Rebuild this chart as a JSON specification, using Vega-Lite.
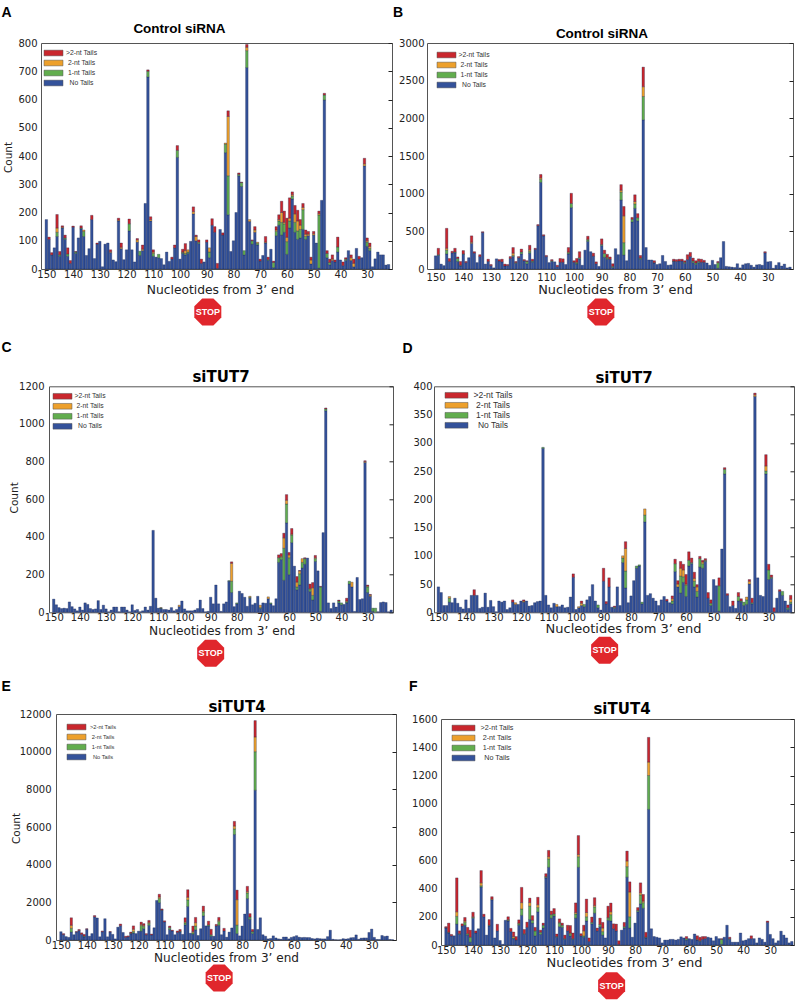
{"$schema":"https://vega.github.io/schema/vega-lite/v6.json","padding":{"left":0,"top":6,"right":0,"bottom":0},"background":"white",
"config":{"view":{"stroke":"#555","strokeWidth":1},"axis":{"grid":false,"domain":false,"labelFont":"DejaVu Sans","labelFontSize":10,"labelColor":"#222","titleFont":"DejaVu Sans","titleFontWeight":"normal","titleColor":"#222","tickColor":"#222","titleFontSize":12.3},"legend":{"labelFont":"Liberation Sans","labelColor":"#333","symbolStrokeWidth":0.5,"symbolStrokeColor":"#555","symbolOpacity":1,"rowPadding":1,"padding":0,"labelAlign":"center","title":null}},
"datasets":{
"a":[{"p":150,"t0":175},{"p":149,"t0":105,"t3":8},{"p":148,"t0":50,"t3":8},{"p":147,"t0":75},{"p":146,"t0":115,"t1":15,"t2":15,"t3":48},{"p":145,"t0":45,"t1":5,"t3":12},{"p":144,"t0":145,"t2":3,"t3":5},{"p":143,"t0":105,"t1":5,"t3":10},{"p":142,"t0":45,"t1":8,"t3":22},{"p":141,"t0":20,"t3":10},{"p":140,"t0":148,"t3":4},{"p":139,"t0":55,"t1":5,"t3":2},{"p":138,"t0":110},{"p":137,"t0":142,"t1":3,"t3":8},{"p":136,"t0":115,"t1":18,"t2":5},{"p":135,"t0":48},{"p":134,"t0":72},{"p":133,"t0":175,"t3":15},{"p":132,"t0":37},{"p":131,"t0":88,"t3":4},{"p":130,"t0":98},{"p":129,"t0":8},{"p":128,"t0":88},{"p":127,"t0":92},{"p":126,"t0":58,"t2":3,"t3":7},{"p":125,"t0":32},{"p":124,"t0":26},{"p":123,"t0":170,"t2":3,"t3":7},{"p":122,"t0":72,"t2":5,"t3":15},{"p":121,"t0":33},{"p":120,"t0":68},{"p":119,"t0":135,"t1":25,"t3":17},{"p":118,"t0":68},{"p":117,"t0":25},{"p":116,"t0":95,"t2":8,"t3":5},{"p":115,"t0":48,"t1":15},{"p":114,"t0":65,"t2":5,"t3":15},{"p":113,"t0":232},{"p":112,"t0":680,"t1":20,"t3":5},{"p":111,"t0":170,"t2":5,"t3":10},{"p":110,"t0":45,"t1":10,"t2":5,"t3":8},{"p":109,"t0":42},{"p":108,"t0":40,"t1":12},{"p":107,"t0":37},{"p":106,"t0":15},{"p":105,"t0":60},{"p":104,"t0":27},{"p":103,"t0":35,"t3":7},{"p":102,"t0":75,"t3":10},{"p":101,"t0":395,"t1":25,"t3":17},{"p":100,"t0":35},{"p":99,"t0":55,"t1":3,"t2":2,"t3":10},{"p":98,"t0":50,"t1":5,"t2":10,"t3":25},{"p":97,"t0":55,"t1":5,"t2":8},{"p":96,"t0":98},{"p":95,"t0":195,"t2":8,"t3":17},{"p":94,"t0":100,"t2":15,"t3":5},{"p":93,"t0":90,"t1":5,"t3":8},{"p":92,"t0":20,"t3":15},{"p":91,"t0":25},{"p":90,"t0":95,"t3":8},{"p":89,"t0":40,"t1":20,"t2":15},{"p":88,"t0":155,"t3":23},{"p":87,"t0":130,"t3":20},{"p":86,"t0":2,"t3":18},{"p":85,"t0":140},{"p":84,"t0":120,"t3":8},{"p":83,"t0":412,"t1":30,"t2":4},{"p":82,"t0":192,"t1":138,"t2":210,"t3":20},{"p":81,"t0":62},{"p":80,"t0":100},{"p":79,"t0":200},{"p":78,"t0":330,"t1":5,"t3":5},{"p":77,"t0":292,"t1":14,"t3":2},{"p":76,"t0":50,"t1":15},{"p":75,"t0":713,"t1":60,"t2":12,"t3":10},{"p":74,"t0":168,"t2":7},{"p":73,"t0":88,"t1":12,"t3":3},{"p":72,"t0":130,"t2":8,"t3":12},{"p":71,"t0":85,"t1":6,"t2":4},{"p":70,"t0":28,"t3":7},{"p":69,"t0":48},{"p":68,"t0":92,"t2":3,"t3":20},{"p":67,"t0":30,"t1":3,"t3":9},{"p":66,"t0":70},{"p":65,"t0":5,"t1":18,"t3":5},{"p":64,"t0":118,"t1":15,"t2":5,"t3":12},{"p":63,"t0":155,"t1":15,"t2":5,"t3":17},{"p":62,"t0":120,"t1":45,"t2":35,"t3":40},{"p":61,"t0":130,"t1":30,"t2":5,"t3":40},{"p":60,"t0":52,"t1":45,"t2":15,"t3":68},{"p":59,"t0":145,"t1":25,"t2":10,"t3":72},{"p":58,"t0":248,"t1":10,"t2":5,"t3":10},{"p":57,"t0":130,"t1":35,"t2":30,"t3":30},{"p":56,"t0":105,"t1":30,"t2":35,"t3":38},{"p":55,"t0":110,"t1":30,"t2":15,"t3":20},{"p":54,"t0":140,"t1":70,"t2":8,"t3":14},{"p":53,"t0":105,"t1":10,"t2":8,"t3":15},{"p":52,"t0":118,"t2":5,"t3":10},{"p":51,"t0":18,"t2":14,"t3":10},{"p":50,"t0":120,"t2":5,"t3":8},{"p":49,"t0":92},{"p":48,"t0":3,"t1":188,"t2":5,"t3":9},{"p":47,"t0":243},{"p":46,"t0":598,"t1":18,"t3":6},{"p":45,"t0":40,"t1":15,"t3":10},{"p":44,"t0":15,"t1":8,"t3":12},{"p":43,"t0":30,"t2":5,"t3":15},{"p":42,"t0":25,"t3":7},{"p":41,"t0":60,"t1":18,"t3":35},{"p":40,"t0":32},{"p":39,"t0":12,"t3":13},{"p":38,"t0":30,"t1":5,"t3":5},{"p":37,"t0":65},{"p":36,"t0":30,"t2":10,"t3":10},{"p":35,"t0":8,"t2":12,"t3":15},{"p":34,"t0":73},{"p":33,"t0":35,"t3":10},{"p":32,"t0":40},{"p":31,"t0":365,"t2":7,"t3":20},{"p":30,"t0":80,"t1":15,"t2":5,"t3":10},{"p":29,"t0":65,"t1":8,"t2":7,"t3":12},{"p":28,"t0":8},{"p":27,"t0":36},{"p":26,"t0":60},{"p":25,"t0":50},{"p":24,"t0":50},{"p":23,"t0":14},{"p":22,"t0":16}],
"b":[{"p":150,"t0":175},{"p":149,"t0":180,"t1":10,"t3":85},{"p":148,"t0":65},{"p":147,"t0":45},{"p":146,"t0":200,"t1":50,"t2":25,"t3":265},{"p":145,"t0":100,"t3":40},{"p":144,"t0":215,"t3":20},{"p":143,"t0":215,"t1":10,"t3":50},{"p":142,"t0":100,"t1":40,"t3":20},{"p":141,"t0":40,"t1":10,"t3":50},{"p":140,"t0":195,"t1":5,"t3":45},{"p":139,"t0":85,"t3":15},{"p":138,"t0":150},{"p":137,"t0":340,"t2":15,"t3":85},{"p":136,"t0":210,"t3":20},{"p":135,"t0":85},{"p":134,"t0":165,"t3":25},{"p":133,"t0":485,"t3":10},{"p":132,"t0":65},{"p":131,"t0":100,"t3":30},{"p":130,"t0":45,"t3":15},{"p":129,"t0":15},{"p":128,"t0":135},{"p":127,"t0":105,"t3":20},{"p":126,"t0":95,"t3":35},{"p":125,"t0":40,"t3":25},{"p":124,"t0":45,"t3":15},{"p":123,"t0":140,"t3":25},{"p":122,"t0":165,"t1":15,"t2":30,"t3":75},{"p":121,"t0":75,"t1":10,"t3":15},{"p":120,"t0":150,"t3":15},{"p":119,"t0":200,"t1":25,"t3":40},{"p":118,"t0":110,"t3":15},{"p":117,"t0":70,"t1":30,"t3":10},{"p":116,"t0":210,"t1":25,"t2":20,"t3":60},{"p":115,"t0":90,"t1":15,"t3":25},{"p":114,"t0":260,"t3":15},{"p":113,"t0":575,"t3":15},{"p":112,"t0":1150,"t1":40,"t2":20,"t3":45},{"p":111,"t0":440,"t3":15},{"p":110,"t0":165,"t3":15},{"p":109,"t0":85},{"p":108,"t0":100,"t1":10,"t3":15},{"p":107,"t0":95},{"p":106,"t0":30,"t3":20},{"p":105,"t0":90,"t3":50},{"p":104,"t0":90,"t3":45},{"p":103,"t0":60},{"p":102,"t0":200,"t1":15,"t2":10,"t3":60},{"p":101,"t0":815,"t1":55,"t3":135},{"p":100,"t0":90,"t3":20},{"p":99,"t0":65,"t1":15,"t2":10,"t3":50},{"p":98,"t0":135,"t1":15,"t3":80},{"p":97,"t0":50},{"p":96,"t0":250},{"p":95,"t0":365,"t1":20,"t2":10,"t3":40},{"p":94,"t0":230},{"p":93,"t0":170,"t3":40},{"p":92,"t0":70,"t3":25},{"p":91,"t0":35},{"p":90,"t0":310,"t1":15,"t3":75},{"p":89,"t0":155,"t1":50,"t3":45},{"p":88,"t0":130,"t1":15,"t2":10,"t3":40},{"p":87,"t0":130,"t3":30},{"p":86,"t0":20,"t1":15,"t3":35},{"p":85,"t0":270},{"p":84,"t0":190},{"p":83,"t0":915,"t1":105,"t2":25,"t3":75},{"p":82,"t0":185,"t1":165,"t2":355,"t3":125},{"p":81,"t0":110},{"p":80,"t0":255},{"p":79,"t0":625,"t1":35,"t3":25},{"p":78,"t0":805,"t1":60,"t2":30,"t3":90},{"p":77,"t0":640,"t1":40,"t3":55},{"p":76,"t0":130,"t1":15,"t3":35},{"p":75,"t0":1980,"t1":310,"t2":130,"t3":260},{"p":74,"t0":285},{"p":73,"t0":120},{"p":72,"t0":120},{"p":71,"t0":80,"t1":5,"t3":25},{"p":70,"t0":60},{"p":69,"t0":70},{"p":68,"t0":180},{"p":67,"t0":100},{"p":66,"t0":50},{"p":65,"t0":55},{"p":64,"t0":100,"t1":5,"t3":25},{"p":63,"t0":100,"t3":25},{"p":62,"t0":105,"t3":25},{"p":61,"t0":105,"t3":25},{"p":60,"t0":75,"t1":15,"t3":20},{"p":59,"t0":125,"t3":65},{"p":58,"t0":165,"t3":55},{"p":57,"t0":85,"t1":20,"t3":40},{"p":56,"t0":60,"t1":20,"t3":30},{"p":55,"t0":85,"t1":15,"t3":35},{"p":54,"t0":90,"t3":40},{"p":53,"t0":90,"t3":25},{"p":52,"t0":80},{"p":51,"t0":50},{"p":50,"t0":115},{"p":49,"t0":60},{"p":48,"t0":10,"t1":75,"t3":15},{"p":47,"t0":150},{"p":46,"t0":365},{"p":45,"t0":35},{"p":44,"t0":30},{"p":43,"t0":25},{"p":42,"t0":20},{"p":41,"t0":70},{"p":40,"t0":15},{"p":39,"t0":55},{"p":38,"t0":70},{"p":37,"t0":75},{"p":36,"t0":50},{"p":35,"t0":25},{"p":34,"t0":55},{"p":33,"t0":60},{"p":32,"t0":50},{"p":31,"t0":215,"t3":15},{"p":30,"t0":95},{"p":29,"t0":100},{"p":28,"t0":10},{"p":27,"t0":50},{"p":26,"t0":85},{"p":25,"t0":40},{"p":24,"t0":65},{"p":23,"t0":15},{"p":22,"t0":25}],
"c":[{"p":150,"t0":70},{"p":149,"t0":40},{"p":148,"t0":25},{"p":147,"t0":20},{"p":146,"t0":22},{"p":145,"t0":20},{"p":144,"t0":55},{"p":143,"t0":30},{"p":142,"t0":18},{"p":141,"t0":8},{"p":140,"t0":28},{"p":139,"t0":12},{"p":138,"t0":50},{"p":137,"t0":42},{"p":136,"t0":20},{"p":135,"t0":15},{"p":134,"t0":18},{"p":133,"t0":62},{"p":132,"t0":15},{"p":131,"t0":38},{"p":130,"t0":18},{"p":129,"t0":3},{"p":128,"t0":12},{"p":127,"t0":28},{"p":126,"t0":28},{"p":125,"t0":3},{"p":124,"t0":28},{"p":123,"t0":28},{"p":122,"t0":12},{"p":121,"t0":3},{"p":120,"t0":40},{"p":119,"t0":10},{"p":118,"t0":15},{"p":117,"t0":3},{"p":116,"t0":8},{"p":115,"t0":28},{"p":114,"t0":12},{"p":113,"t0":32},{"p":112,"t0":435},{"p":111,"t0":75},{"p":110,"t0":22},{"p":109,"t0":20,"t1":3,"t2":2},{"p":108,"t0":15},{"p":107,"t0":15},{"p":106,"t0":12},{"p":105,"t0":25},{"p":104,"t0":8},{"p":103,"t0":15},{"p":102,"t0":30,"t2":8},{"p":101,"t0":60},{"p":100,"t0":18},{"p":99,"t0":8},{"p":98,"t0":8},{"p":97,"t0":8},{"p":96,"t0":12},{"p":95,"t0":20},{"p":94,"t0":65},{"p":93,"t0":20},{"p":92,"t0":3},{"p":91,"t0":5},{"p":90,"t0":80},{"p":89,"t0":45},{"p":88,"t0":145},{"p":87,"t0":45},{"p":86,"t0":5},{"p":85,"t0":45},{"p":84,"t0":55},{"p":83,"t0":165,"t1":3},{"p":82,"t0":105,"t1":60,"t2":95,"t3":8},{"p":81,"t0":30},{"p":80,"t0":45,"t1":5},{"p":79,"t0":112},{"p":78,"t0":100},{"p":77,"t0":80},{"p":76,"t0":32},{"p":75,"t0":75,"t1":5,"t2":5},{"p":74,"t0":40},{"p":73,"t0":48},{"p":72,"t0":85},{"p":71,"t0":20,"t1":5,"t2":13},{"p":70,"t0":50},{"p":69,"t0":48},{"p":68,"t0":72,"t2":10},{"p":67,"t0":45,"t1":5},{"p":66,"t0":35},{"p":65,"t0":72},{"p":64,"t0":265,"t1":25,"t3":15},{"p":63,"t0":280,"t1":12,"t2":5,"t3":15},{"p":62,"t0":170,"t1":170,"t2":55,"t3":25},{"p":61,"t0":475,"t1":100,"t2":20,"t3":30},{"p":60,"t0":200,"t1":90,"t2":15,"t3":13},{"p":59,"t0":370,"t1":40,"t2":5,"t3":30},{"p":58,"t0":245},{"p":57,"t0":120,"t1":15,"t2":25,"t3":30},{"p":56,"t0":145,"t1":60,"t2":15,"t3":2},{"p":55,"t0":235,"t1":30,"t2":20},{"p":54,"t0":255,"t1":30,"t3":5},{"p":53,"t0":288},{"p":52,"t0":110,"t1":15,"t3":25},{"p":51,"t0":65,"t1":25,"t2":40,"t3":28},{"p":50,"t0":270,"t1":15,"t2":5,"t3":12},{"p":49,"t0":220},{"p":48,"t0":5,"t1":130,"t3":3},{"p":47,"t0":423},{"p":46,"t0":1070,"t1":10,"t3":5},{"p":45,"t0":50},{"p":44,"t0":20},{"p":43,"t0":50},{"p":42,"t0":28},{"p":41,"t0":50,"t1":10,"t3":5},{"p":40,"t0":40,"t1":10},{"p":39,"t0":42},{"p":38,"t0":50,"t1":5,"t2":5,"t3":15},{"p":37,"t0":150,"t1":15},{"p":36,"t0":135,"t2":25},{"p":35,"t0":5},{"p":34,"t0":185},{"p":33,"t0":68},{"p":32,"t0":72},{"p":31,"t0":795,"t2":5,"t3":5},{"p":30,"t0":105,"t1":30,"t2":5,"t3":5},{"p":29,"t0":85,"t2":7,"t3":3},{"p":28,"t0":5,"t1":17},{"p":27,"t1":22},{"p":26,"t0":3},{"p":25,"t0":52},{"p":24,"t0":55},{"p":23,"t0":52},{"p":22,"t0":3},{"p":21,"t0":12}],
"d":[{"p":150,"t0":45},{"p":149,"t0":35},{"p":148,"t0":12},{"p":147,"t0":12},{"p":146,"t0":18,"t1":7,"t2":3},{"p":145,"t0":17},{"p":144,"t0":25},{"p":143,"t0":16},{"p":142,"t0":9},{"p":141,"t0":6},{"p":140,"t0":22},{"p":139,"t0":7},{"p":138,"t0":30},{"p":137,"t0":30,"t3":10},{"p":136,"t0":30},{"p":135,"t0":7},{"p":134,"t0":9},{"p":133,"t0":34},{"p":132,"t0":9},{"p":131,"t0":21},{"p":130,"t0":10},{"p":129,"t0":1},{"p":128,"t0":20},{"p":127,"t0":18},{"p":126,"t0":20},{"p":125,"t0":5},{"p":124,"t0":8},{"p":123,"t0":18,"t3":4},{"p":122,"t0":14,"t2":3},{"p":121,"t0":14},{"p":120,"t0":20},{"p":119,"t0":18,"t2":2,"t3":2},{"p":118,"t0":20},{"p":117,"t0":11},{"p":116,"t0":12},{"p":115,"t0":17},{"p":114,"t0":19},{"p":113,"t0":20},{"p":112,"t0":290,"t1":2},{"p":111,"t0":30},{"p":110,"t0":13},{"p":109,"t0":8},{"p":108,"t0":16},{"p":107,"t0":10,"t2":4},{"p":106,"t0":10},{"p":105,"t0":13},{"p":104,"t0":8},{"p":103,"t0":9},{"p":102,"t0":27},{"p":101,"t0":62,"t3":6},{"p":100,"t0":5},{"p":99,"t0":8,"t2":2},{"p":98,"t0":12,"t2":4,"t3":4},{"p":97,"t0":10,"t1":4},{"p":96,"t0":22},{"p":95,"t0":28},{"p":94,"t0":49},{"p":93,"t0":20},{"p":92,"t0":8,"t1":5},{"p":91,"t0":4},{"p":90,"t0":55,"t3":23},{"p":89,"t0":15,"t3":4},{"p":88,"t0":45,"t3":16},{"p":87,"t0":9},{"p":86,"t0":7,"t1":2,"t3":2},{"p":85,"t0":45},{"p":84,"t0":12},{"p":83,"t0":88,"t1":8,"t2":4},{"p":82,"t0":43,"t1":30,"t2":40,"t3":12},{"p":81,"t0":17},{"p":80,"t0":29},{"p":79,"t0":56},{"p":78,"t0":78,"t1":4},{"p":77,"t0":82,"t1":2},{"p":76,"t0":15,"t1":3},{"p":75,"t0":160,"t1":12,"t2":11},{"p":74,"t0":30},{"p":73,"t0":33},{"p":72,"t0":25},{"p":71,"t0":20},{"p":70,"t0":12},{"p":69,"t0":22},{"p":68,"t0":28},{"p":67,"t0":20,"t3":3},{"p":66,"t0":17},{"p":65,"t0":15,"t1":5,"t2":4,"t3":5},{"p":64,"t0":72,"t1":14,"t3":8},{"p":63,"t0":45,"t2":5,"t3":6},{"p":62,"t0":34,"t1":30,"t2":14,"t3":12},{"p":61,"t0":53,"t1":10,"t2":12,"t3":10},{"p":60,"t0":28,"t1":20,"t2":2,"t3":17},{"p":59,"t0":82,"t1":10,"t3":15},{"p":58,"t0":86,"t1":2,"t3":8},{"p":57,"t0":45,"t1":10,"t2":5,"t3":11},{"p":56,"t0":27,"t1":10,"t2":8,"t3":4},{"p":55,"t0":80,"t1":15,"t3":4},{"p":54,"t0":78,"t1":8,"t2":3,"t3":3},{"p":53,"t0":90,"t1":2,"t3":3},{"p":52,"t0":25,"t3":10},{"p":51,"t0":12,"t1":4,"t3":6},{"p":50,"t0":58},{"p":49,"t0":47},{"p":48,"t0":2,"t1":45,"t3":14},{"p":47,"t0":112},{"p":46,"t0":245,"t1":8,"t3":3},{"p":45,"t0":30,"t3":3},{"p":44,"t0":10},{"p":43,"t0":12,"t3":8},{"p":42,"t0":7},{"p":41,"t0":20,"t1":8,"t3":7},{"p":40,"t0":18,"t1":2,"t3":4},{"p":39,"t0":12,"t1":6},{"p":38,"t0":14,"t1":8,"t2":5},{"p":37,"t0":50,"t2":5,"t3":3},{"p":36,"t0":15,"t1":2,"t3":8},{"p":35,"t0":382,"t2":3,"t3":3},{"p":34,"t0":61},{"p":33,"t0":30},{"p":32,"t0":28},{"p":31,"t0":245,"t1":5,"t2":9,"t3":20},{"p":30,"t0":58,"t1":17,"t3":10},{"p":29,"t0":60,"t1":2,"t3":4},{"p":28,"t0":1,"t3":7},{"p":27,"t0":25},{"p":26,"t0":37,"t3":3},{"p":25,"t0":30,"t1":7},{"p":24,"t0":20},{"p":23,"t0":5,"t1":3,"t3":5},{"p":22,"t0":15,"t1":3,"t2":5,"t3":7}],
"e":[{"p":150,"t0":440},{"p":149,"t0":290,"t3":50},{"p":148,"t0":180},{"p":147,"t0":140},{"p":146,"t0":420,"t1":200,"t2":160,"t3":400},{"p":145,"t0":280},{"p":144,"t0":420,"t3":30},{"p":143,"t0":500,"t3":60},{"p":142,"t0":300,"t3":80},{"p":141,"t0":170,"t1":40,"t3":90},{"p":140,"t0":570,"t3":30},{"p":139,"t0":200},{"p":138,"t0":340},{"p":137,"t0":1230,"t3":70},{"p":136,"t0":1170},{"p":135,"t0":170},{"p":134,"t0":440,"t3":40},{"p":133,"t0":1130},{"p":132,"t0":170},{"p":131,"t0":420,"t3":30},{"p":130,"t0":300},{"p":129,"t0":60},{"p":128,"t0":680},{"p":127,"t0":760,"t3":90},{"p":126,"t0":400},{"p":125,"t0":140,"t3":60},{"p":124,"t0":170,"t3":50},{"p":123,"t0":330,"t1":30,"t3":60},{"p":122,"t0":370,"t1":80,"t2":120,"t3":180},{"p":121,"t0":340},{"p":120,"t0":470},{"p":119,"t0":470,"t1":300,"t2":60,"t3":120},{"p":118,"t0":600,"t1":120,"t2":60,"t3":90},{"p":117,"t0":280,"t3":60},{"p":116,"t0":780,"t1":100,"t2":60,"t3":100},{"p":115,"t0":270,"t3":50},{"p":114,"t0":650},{"p":113,"t0":2100},{"p":112,"t0":1980,"t1":220,"t2":80,"t3":150},{"p":111,"t0":1580,"t2":20,"t3":50},{"p":110,"t0":960,"t3":60},{"p":109,"t0":280},{"p":108,"t0":560,"t1":100,"t3":80},{"p":107,"t0":480,"t3":40},{"p":106,"t0":280},{"p":105,"t0":400,"t3":80},{"p":104,"t0":420,"t1":40,"t3":100},{"p":103,"t0":300},{"p":102,"t0":800,"t1":100,"t2":60,"t3":220},{"p":101,"t0":1780,"t1":350,"t2":140,"t3":400},{"p":100,"t0":360},{"p":99,"t0":310,"t1":80,"t2":60,"t3":290},{"p":98,"t0":540,"t1":200,"t2":180,"t3":280},{"p":97,"t0":240},{"p":96,"t0":600},{"p":95,"t0":1280,"t1":200,"t2":60,"t3":260},{"p":94,"t0":750},{"p":93,"t0":740,"t1":60,"t3":200},{"p":92,"t0":200,"t1":80,"t3":290},{"p":91,"t0":200},{"p":90,"t0":750,"t3":80},{"p":89,"t0":780,"t1":200,"t2":60,"t3":160},{"p":88,"t0":280},{"p":87,"t0":480,"t3":140},{"p":86,"t0":150},{"p":85,"t0":420},{"p":84,"t0":640},{"p":83,"t0":5600,"t1":300,"t2":150,"t3":250},{"p":82,"t0":340,"t1":450,"t2":1350,"t3":510},{"p":81,"t0":220},{"p":80,"t0":740},{"p":79,"t0":1380},{"p":78,"t0":2200,"t1":300,"t2":70,"t3":280},{"p":77,"t0":1100,"t1":120,"t3":180},{"p":76,"t0":340,"t1":100,"t2":20,"t3":100},{"p":75,"t0":7950,"t1":2050,"t2":780,"t3":870},{"p":74,"t0":560},{"p":73,"t0":1180},{"p":72,"t0":280},{"p":71,"t0":200},{"p":70,"t0":60},{"p":69,"t0":80},{"p":68,"t0":220},{"p":67,"t0":110},{"p":66,"t0":60},{"p":65,"t0":40},{"p":64,"t0":160},{"p":63,"t0":160},{"p":62,"t0":60},{"p":61,"t0":140},{"p":60,"t0":180},{"p":59,"t0":230},{"p":58,"t0":150},{"p":57,"t0":130},{"p":56,"t0":140},{"p":55,"t0":130},{"p":54,"t0":130},{"p":53,"t0":80},{"p":52,"t0":60},{"p":51,"t0":90},{"p":50,"t0":70},{"p":49,"t0":60},{"p":48,"t0":60},{"p":47,"t0":180},{"p":46,"t0":520},{"p":45,"t0":40},{"p":44,"t0":20},{"p":43,"t0":10},{"p":42,"t0":20},{"p":41,"t0":70},{"p":40,"t0":50},{"p":39,"t0":70},{"p":38,"t0":120},{"p":37,"t0":130},{"p":36,"t0":270},{"p":35,"t0":40},{"p":34,"t0":100},{"p":33,"t0":110},{"p":32,"t0":110},{"p":31,"t0":400},{"p":30,"t0":580},{"p":29,"t0":140},{"p":28,"t0":30},{"p":27,"t0":30},{"p":26,"t0":240},{"p":25,"t0":190},{"p":24,"t0":210},{"p":23,"t0":30},{"p":22,"t0":20}],
"f":[{"p":150,"t0":120,"t1":3,"t3":7},{"p":149,"t0":85,"t1":5,"t3":65},{"p":148,"t0":65,"t3":10},{"p":147,"t0":65},{"p":146,"t0":148,"t1":55,"t2":32,"t3":240},{"p":145,"t0":75,"t1":5,"t3":20},{"p":144,"t0":135,"t3":15},{"p":143,"t0":140,"t1":20,"t2":10,"t3":25},{"p":142,"t0":70,"t1":10,"t3":45},{"p":141,"t0":20,"t1":35,"t3":50},{"p":140,"t0":190,"t1":5,"t2":5,"t3":32},{"p":139,"t0":85,"t3":15},{"p":138,"t0":115},{"p":137,"t0":410,"t1":10,"t2":20,"t3":87},{"p":136,"t0":200,"t3":18},{"p":135,"t0":70},{"p":134,"t0":135,"t1":5,"t3":40},{"p":133,"t0":320,"t2":5,"t3":17},{"p":132,"t0":50},{"p":131,"t0":100,"t3":47},{"p":130,"t0":32},{"p":129,"t0":5},{"p":128,"t0":175},{"p":127,"t0":170,"t1":5,"t2":5,"t3":20},{"p":126,"t0":95,"t3":23},{"p":125,"t0":45,"t1":5,"t2":10,"t3":32},{"p":124,"t0":35,"t3":25},{"p":123,"t0":140,"t1":10,"t2":5,"t3":23},{"p":122,"t0":210,"t1":45,"t2":45,"t3":108},{"p":121,"t0":75,"t1":5,"t3":30},{"p":120,"t0":125,"t3":37},{"p":119,"t0":180,"t1":95,"t2":25,"t3":32},{"p":118,"t0":155,"t1":20,"t3":33},{"p":117,"t0":65,"t1":35,"t3":25},{"p":116,"t0":235,"t1":30,"t2":20,"t3":53},{"p":115,"t0":75,"t1":15,"t3":15},{"p":114,"t0":120,"t1":20,"t3":15},{"p":113,"t0":475,"t1":5,"t2":5,"t3":20},{"p":112,"t0":550,"t1":60,"t2":15,"t3":45},{"p":111,"t0":190,"t1":25,"t3":25},{"p":110,"t0":205,"t1":15,"t3":38},{"p":109,"t0":55,"t1":5,"t3":18},{"p":108,"t0":130,"t1":25,"t2":5,"t3":25},{"p":107,"t0":125,"t1":15,"t3":15},{"p":106,"t0":40,"t1":5,"t3":25},{"p":105,"t0":100,"t3":40},{"p":104,"t0":65,"t1":15,"t2":5,"t3":53},{"p":103,"t0":40,"t1":5,"t3":40},{"p":102,"t0":190,"t1":30,"t2":10,"t3":68},{"p":101,"t0":550,"t1":75,"t2":15,"t3":135},{"p":100,"t0":65,"t3":15},{"p":99,"t0":55,"t1":10,"t2":35,"t3":40},{"p":98,"t0":170,"t1":30,"t2":30,"t3":95},{"p":97,"t0":25,"t3":25},{"p":96,"t0":150,"t1":10,"t3":38},{"p":95,"t0":225,"t1":45,"t2":10,"t3":55},{"p":94,"t0":100,"t3":20},{"p":93,"t0":130,"t1":15,"t3":45},{"p":92,"t0":70,"t1":25,"t2":25,"t3":40},{"p":91,"t0":50},{"p":90,"t0":175,"t1":15,"t2":5,"t3":80},{"p":89,"t0":170,"t1":45,"t2":20,"t3":62},{"p":88,"t0":115,"t3":35},{"p":87,"t0":100,"t3":48},{"p":86,"t0":5,"t3":25},{"p":85,"t0":105},{"p":84,"t0":120,"t1":10,"t3":30},{"p":83,"t0":480,"t1":75,"t2":40,"t3":70},{"p":82,"t0":120,"t1":80,"t2":175,"t3":72},{"p":81,"t0":55},{"p":80,"t0":155},{"p":79,"t0":235,"t1":10,"t3":20},{"p":78,"t0":290,"t1":65,"t2":15,"t3":70},{"p":77,"t0":260,"t1":40,"t2":10,"t3":48},{"p":76,"t0":50,"t1":5,"t3":35},{"p":75,"t0":960,"t1":240,"t2":95,"t3":175},{"p":74,"t0":115},{"p":73,"t0":60},{"p":72,"t0":55},{"p":71,"t0":50},{"p":70,"t0":15},{"p":69,"t0":35},{"p":68,"t0":35},{"p":67,"t0":40},{"p":66,"t0":40},{"p":65,"t0":35},{"p":64,"t0":40},{"p":63,"t0":58},{"p":62,"t0":50},{"p":61,"t0":35,"t1":10,"t3":15},{"p":60,"t0":45},{"p":59,"t0":40},{"p":58,"t0":78},{"p":57,"t0":35,"t2":5,"t3":25},{"p":56,"t0":25,"t1":5,"t3":25},{"p":55,"t0":40,"t3":20},{"p":54,"t0":45,"t3":15},{"p":53,"t0":55},{"p":52,"t0":50},{"p":51,"t0":30},{"p":50,"t0":60},{"p":49,"t0":45},{"p":48,"t0":5,"t1":35,"t3":5},{"p":47,"t0":55},{"p":46,"t0":140},{"p":45,"t0":40,"t1":5,"t3":10},{"p":44,"t0":20},{"p":43,"t0":20},{"p":42,"t0":20},{"p":41,"t0":85},{"p":40,"t0":30},{"p":39,"t0":35},{"p":38,"t0":45},{"p":37,"t0":45,"t3":20},{"p":36,"t0":45},{"p":35,"t0":15},{"p":34,"t0":50},{"p":33,"t0":40},{"p":32,"t0":20},{"p":31,"t0":160,"t3":10},{"p":30,"t0":75},{"p":29,"t0":45},{"p":28,"t0":15},{"p":27,"t0":30},{"p":26,"t0":98},{"p":25,"t0":70},{"p":24,"t0":50},{"p":23,"t0":15},{"p":22,"t0":25}],
"none":[]
},
"spacing":11,"align":"none","resolve":{"scale":{"color":"independent"},"legend":{"color":"independent"}},
"vconcat":[{"spacing":13.3,"align":"none","resolve":{"scale":{"color":"independent"},"legend":{"color":"independent"}},"vconcat":[
{"spacing":0,"align":"none","resolve":{"scale":{"color":"independent"},"legend":{"color":"independent"}},"hconcat":[{"width":1,"height":1,"view":{"stroke":null},"data":{"name":"none"},"mark":"point","encoding":{}},{"spacing":0,"align":"none","resolve":{"scale":{"color":"independent"},"legend":{"color":"independent"}},"hconcat":[
{"title":{"text":"A","anchor":"start","font":"Liberation Sans","fontSize":14,"fontWeight":"bold","color":"#000","offset":1.4,"dx":-1},"resolve":{"scale":{"color":"independent"},"legend":{"color":"independent"}},"hconcat":[{"width":351,"height":226,"title":{"text":"Control siRNA","font":"Liberation Sans","fontSize":13.5,"fontWeight":"bold","dx":-37,"offset":2.3,"color":"#000"},"resolve":{"axis":{"x":"independent","y":"independent"}},"layer":[
{"data":{"name":"a"},"transform":[{"fold":["t0","t1","t2","t3"],"as":["tail","c"]},{"filter":{"field":"c","gt":0}}],"mark":{"type":"bar","size":2.5,"stroke":"#101c44","strokeWidth":0.3},"encoding":{"x":{"field":"p","type":"quantitative","scale":{"domain":[152,20.7],"nice":false,"zero":false,"padding":0},"axis":{"values":[150,140,130,120,110,100,90,80,70,60,50,40,30],"format":"d","tickSize":0,"labelPadding":0,"title":"Nucleotides from 3’ end","titleX":179,"titleY":20,"titleBaseline":"middle"}},"y":{"field":"c","type":"quantitative","stack":"zero","scale":{"domain":[0,800],"nice":false},"axis":{"values":[0,100,200,300,400,500,600,700,800],"format":"d","tickSize":0,"labelPadding":4,"title":"Count","titleFontSize":10.5,"titleX":-33,"titleY":114,"titleBaseline":"middle"}},"color":{"field":"tail","type":"nominal","scale":{"domain":["t3","t2","t1","t0"],"range":["#c9272d","#eda02c","#62ad4e","#34529a"]},"legend":{"orient":"none","legendX":8,"legendY":5.5,"symbolType":"M-2.375,-0.71H2.375V0.71H-2.375Z","symbolSize":64,"labelFontSize":6.8,"labelOffset":23.5,"labelExpr":"{t3:'>2-nt Tails',t2:'2-nt Tails',t1:'1-nt Tails',t0:'No Tails'}[datum.label]"}},"order":{"field":"tail","sort":"ascending"}}},
{"data":{"values":[{"label":"STOP"}]},"mark":{"type":"point","shape":"M-0.414,-1L0.414,-1L1,-0.414L1,0.414L0.414,1L-0.414,1L-1,0.414L-1,-0.414Z","filled":true,"color":"#e0262c","size":729,"opacity":1},"encoding":{"x":{"datum":89.6,"type":"quantitative","axis":null},"y":{"datum":-152,"type":"quantitative","axis":{"orient":"right","values":[0,100,200,300,400,500,600,700,800],"labels":false,"title":null,"tickSize":-4}}}},
{"data":{"values":[{"label":"STOP"}]},"mark":{"type":"text","font":"Liberation Sans","fontSize":9,"fontWeight":"bold","color":"white"},"encoding":{"x":{"datum":89.6,"type":"quantitative","axis":null},"y":{"datum":-152,"type":"quantitative","axis":null},"text":{"field":"label"}}}
]}]},
{"title":{"text":"B","anchor":"start","font":"Liberation Sans","fontSize":14,"fontWeight":"bold","color":"#000","offset":6.4,"dx":-5},"resolve":{"scale":{"color":"independent"},"legend":{"color":"independent"}},"hconcat":[{"width":366,"height":226,"title":{"text":"Control siRNA","font":"Liberation Sans","fontSize":13.5,"fontWeight":"bold","dx":-8,"offset":-2.7,"color":"#000"},"resolve":{"axis":{"x":"independent","y":"independent"}},"layer":[
{"data":{"name":"b"},"transform":[{"fold":["t0","t1","t2","t3"],"as":["tail","c"]},{"filter":{"field":"c","gt":0}}],"mark":{"type":"bar","size":2.5,"stroke":"#101c44","strokeWidth":0.3},"encoding":{"x":{"field":"p","type":"quantitative","scale":{"domain":[153.1,20.9],"nice":false,"zero":false,"padding":0},"axis":{"values":[150,140,130,120,110,100,90,80,70,60,50,40,30],"format":"d","tickSize":0,"labelPadding":3,"title":"Nucleotides from 3’ end","titleFontSize":12.9,"titleX":188,"titleY":20,"titleBaseline":"middle"}},"y":{"field":"c","type":"quantitative","stack":"zero","scale":{"domain":[0,3000],"nice":false},"axis":{"values":[0,500,1000,1500,2000,2500,3000],"format":"d","tickSize":0,"labelPadding":3,"title":null}},"color":{"field":"tail","type":"nominal","scale":{"domain":["t3","t2","t1","t0"],"range":["#c9272d","#eda02c","#62ad4e","#34529a"]},"legend":{"orient":"none","legendX":15,"legendY":7.5,"symbolType":"M-2.375,-0.71H2.375V0.71H-2.375Z","symbolSize":64,"labelFontSize":6.8,"labelOffset":23,"labelExpr":"{t3:'>2-nt Tails',t2:'2-nt Tails',t1:'1-nt Tails',t0:'No Tails'}[datum.label]"}},"order":{"field":"tail","sort":"ascending"}}},
{"data":{"values":[{"label":"STOP"}]},"mark":{"type":"point","shape":"M-0.414,-1L0.414,-1L1,-0.414L1,0.414L0.414,1L-0.414,1L-1,0.414L-1,-0.414Z","filled":true,"color":"#e0262c","size":729,"opacity":1},"encoding":{"x":{"datum":90.3,"type":"quantitative","axis":null},"y":{"datum":-571,"type":"quantitative","axis":{"orient":"right","values":[0,500,1000,1500,2000,2500,3000],"labels":false,"title":null,"tickSize":-4}}}},
{"data":{"values":[{"label":"STOP"}]},"mark":{"type":"text","font":"Liberation Sans","fontSize":9,"fontWeight":"bold","color":"white"},"encoding":{"x":{"datum":90.3,"type":"quantitative","axis":null},"y":{"datum":-571,"type":"quantitative","axis":null},"text":{"field":"label"}}}
]}]}]}]},
{"spacing":0,"align":"none","resolve":{"scale":{"color":"independent"},"legend":{"color":"independent"}},"hconcat":[{"width":1,"height":1,"view":{"stroke":null},"data":{"name":"none"},"mark":"point","encoding":{}},{"spacing":8,"align":"none","resolve":{"scale":{"color":"independent"},"legend":{"color":"independent"}},"hconcat":[
{"title":{"text":"C","anchor":"start","font":"Liberation Sans","fontSize":14,"fontWeight":"bold","color":"#000","offset":15.2,"dx":-7},"resolve":{"scale":{"color":"independent"},"legend":{"color":"independent"}},"hconcat":[{"width":344,"height":226,"title":{"text":"siTUT7","font":"DejaVu Sans","fontSize":15,"fontWeight":"bold","dx":0,"offset":-4,"color":"#000"},"resolve":{"axis":{"x":"independent","y":"independent"}},"layer":[
{"data":{"name":"c"},"transform":[{"fold":["t0","t1","t2","t3"],"as":["tail","c"]},{"filter":{"field":"c","gt":0}}],"mark":{"type":"bar","size":2.4,"stroke":"#101c44","strokeWidth":0.3},"encoding":{"x":{"field":"p","type":"quantitative","scale":{"domain":[151.8,20.3],"nice":false,"zero":false,"padding":0},"axis":{"values":[150,140,130,120,110,100,90,80,70,60,50,40,30],"format":"d","tickSize":0,"labelPadding":0,"title":"Nucleotides from 3’ end","titleFontSize":12.2,"titleX":172.7,"titleY":18,"titleBaseline":"middle"}},"y":{"field":"c","type":"quantitative","stack":"zero","scale":{"domain":[0,1200],"nice":false},"axis":{"values":[0,200,400,600,800,1000,1200],"format":"d","tickSize":0,"labelPadding":5,"title":"Count","titleFontSize":10.5,"titleX":-35,"titleY":111,"titleBaseline":"middle"}},"color":{"field":"tail","type":"nominal","scale":{"domain":["t3","t2","t1","t0"],"range":["#c9272d","#eda02c","#62ad4e","#34529a"]},"legend":{"orient":"none","legendX":9,"legendY":5.5,"symbolType":"M-2.375,-0.71H2.375V0.71H-2.375Z","symbolSize":64,"labelFontSize":6.8,"labelOffset":23,"labelExpr":"{t3:'>2-nt Tails',t2:'2-nt Tails',t1:'1-nt Tails',t0:'No Tails'}[datum.label]"}},"order":{"field":"tail","sort":"ascending"}}},
{"data":{"values":[{"label":"STOP"}]},"mark":{"type":"point","shape":"M-0.414,-1L0.414,-1L1,-0.414L1,0.414L0.414,1L-0.414,1L-1,0.414L-1,-0.414Z","filled":true,"color":"#e0262c","size":729,"opacity":1},"encoding":{"x":{"datum":90,"type":"quantitative","axis":null},"y":{"datum":-218,"type":"quantitative","axis":{"orient":"right","values":[0,200,400,600,800,1000,1200],"labels":false,"title":null,"tickSize":-4}}}},
{"data":{"values":[{"label":"STOP"}]},"mark":{"type":"text","font":"Liberation Sans","fontSize":9,"fontWeight":"bold","color":"white"},"encoding":{"x":{"datum":90,"type":"quantitative","axis":null},"y":{"datum":-218,"type":"quantitative","axis":null},"text":{"field":"label"}}}
]}]},
{"title":{"text":"D","anchor":"start","font":"Liberation Sans","fontSize":14,"fontWeight":"bold","color":"#000","offset":15.2,"dx":-10},"resolve":{"scale":{"color":"independent"},"legend":{"color":"independent"}},"hconcat":[{"width":360,"height":226,"title":{"text":"siTUT7","font":"DejaVu Sans","fontSize":15,"fontWeight":"bold","dx":10,"offset":-5,"color":"#000"},"resolve":{"axis":{"x":"independent","y":"independent"}},"layer":[
{"data":{"name":"d"},"transform":[{"fold":["t0","t1","t2","t3"],"as":["tail","c"]},{"filter":{"field":"c","gt":0}}],"mark":{"type":"bar","size":2.5,"stroke":"#101c44","strokeWidth":0.3},"encoding":{"x":{"field":"p","type":"quantitative","scale":{"domain":[151.6,20.8],"nice":false,"zero":false,"padding":0},"axis":{"values":[150,140,130,120,110,100,90,80,70,60,50,40,30],"format":"d","tickSize":0,"labelPadding":0,"title":"Nucleotides from 3’ end","titleFontSize":13,"titleX":189,"titleY":16.5,"titleBaseline":"middle"}},"y":{"field":"c","type":"quantitative","stack":"zero","scale":{"domain":[0,400],"nice":false},"axis":{"values":[0,50,100,150,200,250,300,350,400],"format":"d","tickSize":0,"labelPadding":2,"title":null}},"color":{"field":"tail","type":"nominal","scale":{"domain":["t3","t2","t1","t0"],"range":["#c9272d","#eda02c","#62ad4e","#34529a"]},"legend":{"orient":"none","legendX":18,"legendY":4.5,"symbolType":"M-2.875,-0.71H2.875V0.71H-2.875Z","symbolSize":64,"labelFontSize":8.5,"labelOffset":32,"labelExpr":"{t3:'>2-nt Tails',t2:'2-nt Tails',t1:'1-nt Tails',t0:'No Tails'}[datum.label]"}},"order":{"field":"tail","sort":"ascending"}}},
{"data":{"values":[{"label":"STOP"}]},"mark":{"type":"point","shape":"M-0.414,-1L0.414,-1L1,-0.414L1,0.414L0.414,1L-0.414,1L-1,0.414L-1,-0.414Z","filled":true,"color":"#e0262c","size":729,"opacity":1},"encoding":{"x":{"datum":89.6,"type":"quantitative","axis":null},"y":{"datum":-67,"type":"quantitative","axis":{"orient":"right","values":[0,50,100,150,200,250,300,350,400],"labels":false,"title":null,"tickSize":-4}}}},
{"data":{"values":[{"label":"STOP"}]},"mark":{"type":"text","font":"Liberation Sans","fontSize":9,"fontWeight":"bold","color":"white"},"encoding":{"x":{"datum":89.6,"type":"quantitative","axis":null},"y":{"datum":-67,"type":"quantitative","axis":null},"text":{"field":"label"}}}
]}]}]}]}
]},
{"spacing":0,"align":"none","resolve":{"scale":{"color":"independent"},"legend":{"color":"independent"}},"hconcat":[{"width":1,"height":1,"view":{"stroke":null},"data":{"name":"none"},"mark":"point","encoding":{}},{"spacing":12,"align":"none","resolve":{"scale":{"color":"independent"},"legend":{"color":"independent"}},"hconcat":[
{"spacing":0,"align":"none","resolve":{"scale":{"color":"independent"},"legend":{"color":"independent"}},"vconcat":[{"width":1,"height":1,"view":{"stroke":null},"data":{"name":"none"},"mark":"point","encoding":{}},
{"title":{"text":"E","anchor":"start","font":"Liberation Sans","fontSize":14,"fontWeight":"bold","color":"#000","offset":5.2,"dx":-9},"resolve":{"scale":{"color":"independent"},"legend":{"color":"independent"}},"hconcat":[{"width":340,"height":226,"title":{"text":"siTUT4","font":"DejaVu Sans","fontSize":15,"fontWeight":"bold","dx":11,"offset":-6,"color":"#000"},"resolve":{"axis":{"x":"independent","y":"independent"}},"layer":[
{"data":{"name":"e"},"transform":[{"fold":["t0","t1","t2","t3"],"as":["tail","c"]},{"filter":{"field":"c","gt":0}}],"mark":{"type":"bar","size":2.4,"stroke":"#101c44","strokeWidth":0.3},"encoding":{"x":{"field":"p","type":"quantitative","scale":{"domain":[151.9,20.6],"nice":false,"zero":false,"padding":0},"axis":{"values":[150,140,130,120,110,100,90,80,70,60,50,40,30],"format":"d","tickSize":0,"labelPadding":0,"title":"Nucleotides from 3’ end","titleFontSize":12.1,"titleX":170,"titleY":17.5,"titleBaseline":"middle"}},"y":{"field":"c","type":"quantitative","stack":"zero","scale":{"domain":[0,12000],"nice":false},"axis":{"values":[0,2000,4000,6000,8000,10000,12000],"format":"d","tickSize":0,"labelPadding":5,"title":"Count","titleFontSize":10.5,"titleX":-40,"titleY":114,"titleBaseline":"middle"}},"color":{"field":"tail","type":"nominal","scale":{"domain":["t3","t2","t1","t0"],"range":["#c9272d","#eda02c","#62ad4e","#34529a"]},"legend":{"orient":"none","legendX":16,"legendY":8.5,"symbolType":"M-2.375,-0.71H2.375V0.71H-2.375Z","symbolSize":64,"labelFontSize":5.7,"labelOffset":22,"labelExpr":"{t3:'>2-nt Tails',t2:'2-nt Tails',t1:'1-nt Tails',t0:'No Tails'}[datum.label]"}},"order":{"field":"tail","sort":"ascending"}}},
{"data":{"values":[{"label":"STOP"}]},"mark":{"type":"point","shape":"M-0.414,-1L0.414,-1L1,-0.414L1,0.414L0.414,1L-0.414,1L-1,0.414L-1,-0.414Z","filled":true,"color":"#e0262c","size":729,"opacity":1},"encoding":{"x":{"datum":88.9,"type":"quantitative","axis":null},"y":{"datum":-2018,"type":"quantitative","axis":{"orient":"right","values":[0,2000,4000,6000,8000,10000,12000],"labels":false,"title":null,"tickSize":-4}}}},
{"data":{"values":[{"label":"STOP"}]},"mark":{"type":"text","font":"Liberation Sans","fontSize":9,"fontWeight":"bold","color":"white"},"encoding":{"x":{"datum":88.9,"type":"quantitative","axis":null},"y":{"datum":-2018,"type":"quantitative","axis":null},"text":{"field":"label"}}}
]}]}]},
{"spacing":0,"align":"none","resolve":{"scale":{"color":"independent"},"legend":{"color":"independent"}},"vconcat":[{"width":1,"height":1,"view":{"stroke":null},"data":{"name":"none"},"mark":"point","encoding":{}},
{"title":{"text":"F","anchor":"start","font":"Liberation Sans","fontSize":14,"fontWeight":"bold","color":"#000","offset":7.2,"dx":-2},"resolve":{"scale":{"color":"independent"},"legend":{"color":"independent"}},"hconcat":[{"width":353,"height":226,"title":{"text":"siTUT4","font":"DejaVu Sans","fontSize":15,"fontWeight":"bold","dx":4.5,"offset":-3,"color":"#000"},"resolve":{"axis":{"x":"independent","y":"independent"}},"layer":[
{"data":{"name":"f"},"transform":[{"fold":["t0","t1","t2","t3"],"as":["tail","c"]},{"filter":{"field":"c","gt":0}}],"mark":{"type":"bar","size":2.5,"stroke":"#101c44","strokeWidth":0.3},"encoding":{"x":{"field":"p","type":"quantitative","scale":{"domain":[151.85,21.2],"nice":false,"zero":false,"padding":0},"axis":{"values":[150,140,130,120,110,100,90,80,70,60,50,40,30],"format":"d","tickSize":0,"labelPadding":0,"title":"Nucleotides from 3’ end","titleFontSize":13,"titleX":183,"titleY":17,"titleBaseline":"middle"}},"y":{"field":"c","type":"quantitative","stack":"zero","scale":{"domain":[0,1600],"nice":false},"axis":{"values":[0,200,400,600,800,1000,1200,1400,1600],"format":"d","tickSize":0,"labelPadding":4,"title":null}},"color":{"field":"tail","type":"nominal","scale":{"domain":["t3","t2","t1","t0"],"range":["#c9272d","#eda02c","#62ad4e","#34529a"]},"legend":{"orient":"none","legendX":18,"legendY":4.5,"symbolType":"M-2.875,-0.71H2.875V0.71H-2.875Z","symbolSize":64,"labelFontSize":7.2,"labelOffset":29,"labelExpr":"{t3:'>2-nt Tails',t2:'2-nt Tails',t1:'1-nt Tails',t0:'No Tails'}[datum.label]"}},"order":{"field":"tail","sort":"ascending"}}},
{"data":{"values":[{"label":"STOP"}]},"mark":{"type":"point","shape":"M-0.414,-1L0.414,-1L1,-0.414L1,0.414L0.414,1L-0.414,1L-1,0.414L-1,-0.414Z","filled":true,"color":"#e0262c","size":729,"opacity":1},"encoding":{"x":{"datum":88.7,"type":"quantitative","axis":null},"y":{"datum":-288,"type":"quantitative","axis":{"orient":"right","values":[0,200,400,600,800,1000,1200,1400,1600],"labels":false,"title":null,"tickSize":-4}}}},
{"data":{"values":[{"label":"STOP"}]},"mark":{"type":"text","font":"Liberation Sans","fontSize":9,"fontWeight":"bold","color":"white"},"encoding":{"x":{"datum":88.7,"type":"quantitative","axis":null},"y":{"datum":-288,"type":"quantitative","axis":null},"text":{"field":"label"}}}
]}]}]}]}]}
]}
